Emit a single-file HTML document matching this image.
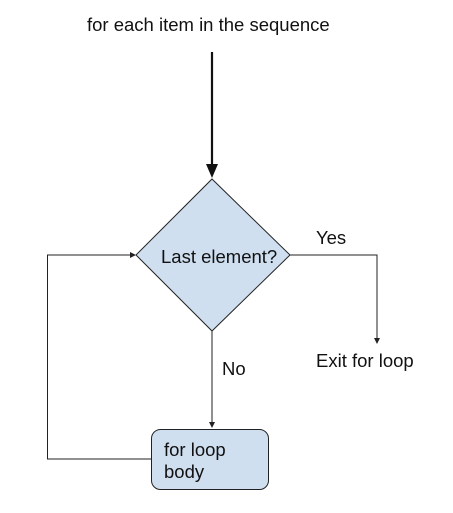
<!DOCTYPE html>
<html><head><style>
body{margin:0;background:#fff;width:453px;height:508px;overflow:hidden}
svg text{font-family:"Liberation Sans",Arial,sans-serif;font-size:18.5px;fill:#111}
</style></head><body>
<svg width="453" height="508" viewBox="0 0 453 508">
<text x="87" y="31">for each item in the sequence</text>
<line x1="212" y1="52" x2="212" y2="168" stroke="#111" stroke-width="2.2"/>
<polygon points="206,164 218,164 212,178" fill="#111"/>
<polygon points="212,179 290,255 212,331 136,255" fill="#cfdff0" stroke="#222" stroke-width="1"/>
<text x="161" y="263">Last element?</text>
<polyline points="290,255 377,255 377,340" fill="none" stroke="#222" stroke-width="1"/>
<polygon points="374,338 380,338 377,344" fill="#222"/>
<text x="316" y="244">Yes</text>
<text x="316" y="367">Exit for loop</text>
<line x1="212" y1="331" x2="212" y2="424" stroke="#222" stroke-width="1"/>
<polygon points="209,422 215,422 212,428" fill="#222"/>
<text x="222" y="375">No</text>
<rect x="151.5" y="429.5" width="117" height="60" rx="9" fill="#cfdff0" stroke="#222" stroke-width="1"/>
<text x="164" y="456">for loop</text>
<text x="164" y="478">body</text>
<polyline points="151,459 47.5,459 47.5,255 130,255" fill="none" stroke="#222" stroke-width="1"/>
<polygon points="130,252 130,258 136,255" fill="#222"/>
</svg>
</body></html>
